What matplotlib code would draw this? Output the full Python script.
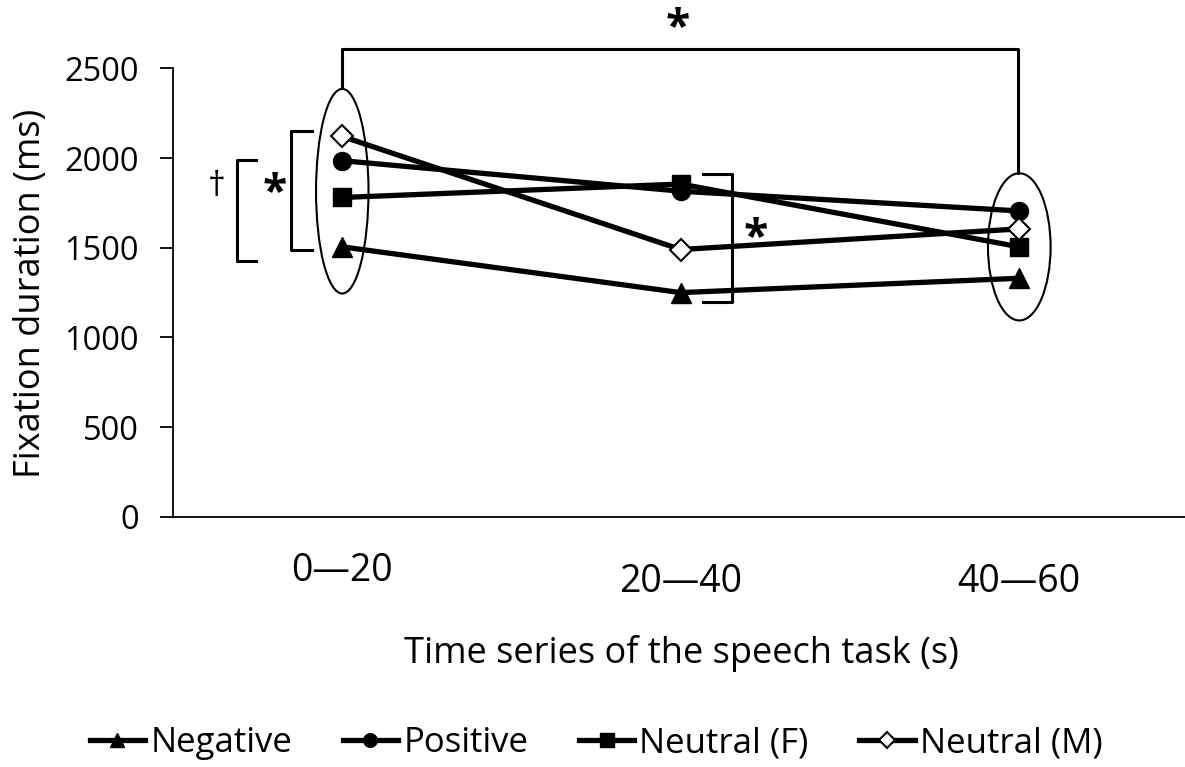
import matplotlib.pyplot as plt
from matplotlib.patches import Ellipse
import matplotlib.transforms as mtransforms

plt.rcParams['font.family'] = ['Open Sans', 'DejaVu Sans']

# данные
periods = ['0\u201420', '20\u201440', '40\u201460']
negative = [1505, 1250, 1330]
positive = [1985, 1815, 1705]
neutral_f = [1780, 1855, 1505]
neutral_m = [2120, 1490, 1605]

fig = plt.figure(figsize=(11.85, 7.67), dpi=100)
ax = fig.add_axes([0.146, 0.326, 0.857, 0.585])

x = [0.5, 1.5, 2.5]
lw = 3.8
ms = 13
ax.plot(x, negative, '-^', color='black', lw=lw, ms=ms + 1, label='Negative', clip_on=False)
ax.plot(x, positive, '-o', color='black', lw=lw, ms=ms, label='Positive', clip_on=False)
ax.plot(x, neutral_f, '-s', color='black', lw=lw, ms=ms, label='Neutral (F)', clip_on=False)
ax.plot(x, neutral_m, '-D', color='black', mfc='white', mew=1.5, lw=lw, ms=ms - 2,
        label='Neutral (M)', clip_on=False)

ax.set_xlim(0, 3)
ax.set_ylim(0, 2500)
ax.set_yticks([0, 500, 1000, 1500, 2000, 2500])
ax.tick_params(axis='y', labelsize=23.5, length=9.5, width=1.3, direction='out', pad=15)
ax.set_xticks([])
for s in ['top', 'right']:
    ax.spines[s].set_visible(False)
ax.spines['left'].set_linewidth(1.3)
ax.spines['bottom'].set_linewidth(1.3)

# подписи по оси X (первая стоит выше, как в оригинале)
trans = mtransforms.blended_transform_factory(ax.transData, fig.transFigure)
label_y = [1 - 571 / 767, 1 - 582 / 767, 1 - 582 / 767]
for xi, lab, yy in zip(x, periods, label_y):
    ax.text(xi, yy, lab, transform=trans, ha='center', va='center', fontsize=27)

fig.text(0.575, 1 - 653 / 767, 'Time series of the speech task (s)', ha='center',
         va='center', fontsize=26)
fig.text(0.026, 0.617, 'Fixation duration (ms)', rotation=90, ha='center',
         va='center', fontsize=26)

# эллипсы
ax.add_patch(Ellipse((0.5, 1815), 0.155, 1140, fill=False, lw=1.5, clip_on=False))
ax.add_patch(Ellipse((2.5, 1505), 0.185, 820, fill=False, lw=1.5, clip_on=False))

# скобки значимости
blw = 2.2
ax.plot([0.5, 0.5, 2.495, 2.495], [2395, 2605, 2605, 1915], color='black', lw=blw, clip_on=False)
ax.text(1.49, 2720, '*', ha='center', va='center', fontsize=32, fontweight='bold')

ax.plot([0.41, 0.35, 0.35, 0.41], [2150, 2150, 1490, 1490], color='black', lw=blw, clip_on=False)
ax.text(0.3, 1800, '*', ha='center', va='center', fontsize=32, fontweight='bold')
ax.plot([0.246, 0.19, 0.19, 0.246], [1990, 1990, 1425, 1425], color='black', lw=blw, clip_on=False)
ax.text(0.13, 1840, '\u2020', ha='center', va='center', fontsize=25)

ax.plot([1.565, 1.65, 1.65, 1.565], [1910, 1910, 1200, 1200], color='black', lw=blw, clip_on=False)
ax.text(1.72, 1550, '*', ha='center', va='center', fontsize=32, fontweight='bold')

fig.legend(loc='center', bbox_to_anchor=(0.503, 1 - 743 / 767), ncol=4, frameon=False,
           fontsize=25, handlelength=1.6, handletextpad=0.15, columnspacing=1.45,
           markerscale=0.75)

fig.savefig('out.png', dpi=100)
